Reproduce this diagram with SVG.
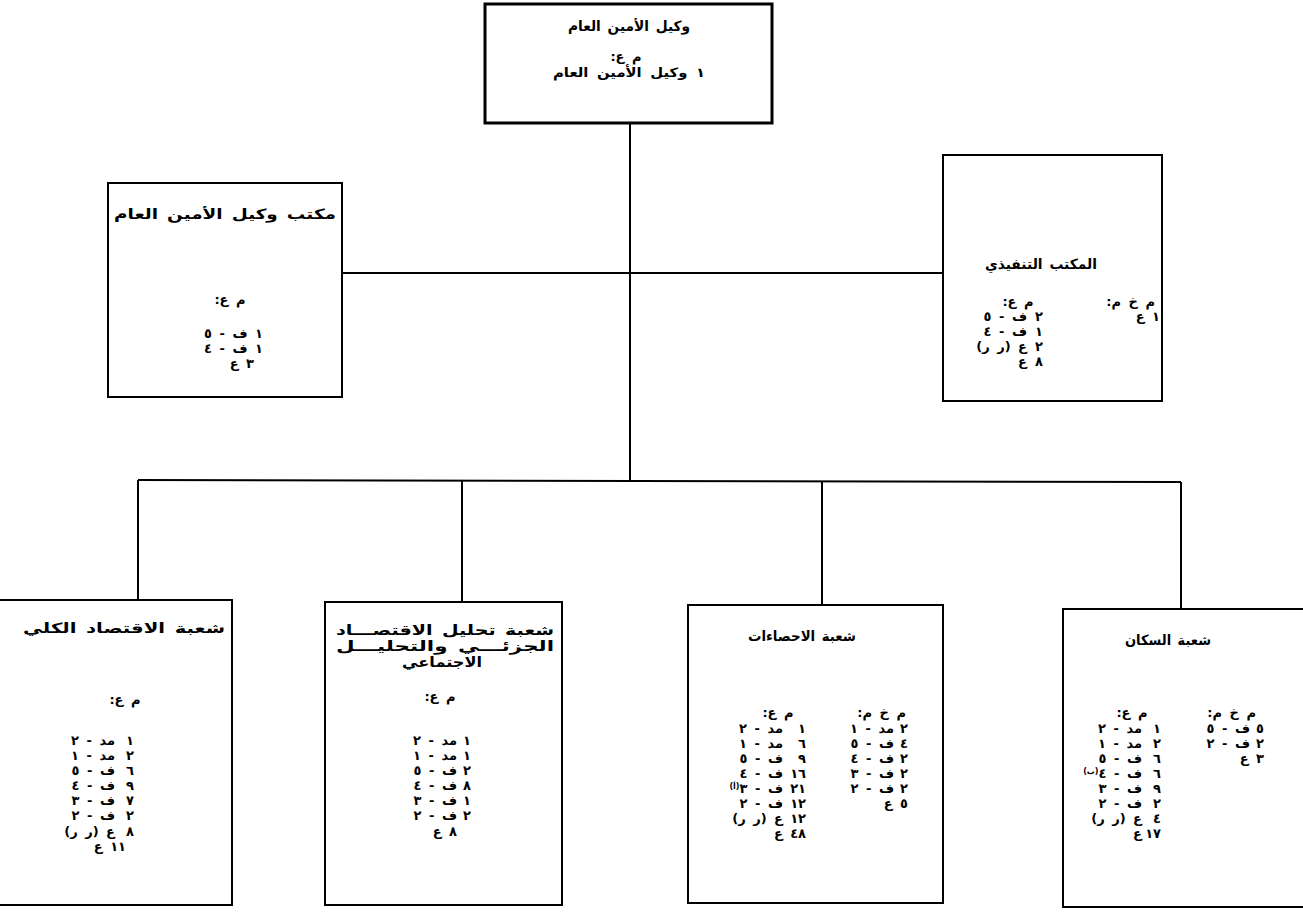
<svg xmlns="http://www.w3.org/2000/svg" width="1303" height="915" viewBox="0 0 1303 915">
<style>
.bg{fill:#fff}
.box{fill:none;stroke:#000;stroke-width:2}
.box.main{stroke-width:3}
.ln{fill:none;stroke:#000;stroke-width:2}
text{font-family:"DejaVu Sans",sans-serif;font-weight:bold;font-size:13px;fill:#000;direction:rtl;word-spacing:3px}
.c{text-anchor:middle}
.r{text-anchor:start}
.ttl{font-size:14px;word-spacing:2px}
.sup{font-size:8px}
</style>
<rect class="bg" x="0" y="0" width="1303" height="915"/>
<g id="connectors">
<line class="ln" x1="630" y1="123" x2="630" y2="482"/>
<line class="ln" x1="342" y1="273" x2="943" y2="273"/>
<line class="ln" x1="138" y1="480" x2="1181" y2="482"/>
<line class="ln" x1="138" y1="480" x2="138" y2="600"/>
<line class="ln" x1="462" y1="481" x2="462" y2="602"/>
<line class="ln" x1="822" y1="481" x2="822" y2="605"/>
<line class="ln" x1="1181" y1="482" x2="1181" y2="609"/>
</g>
<g id="n-top">
<rect class="box main" x="485" y="4" width="287" height="119"/>
<text class="c ttl" x="629" y="31" textLength="122" lengthAdjust="spacingAndGlyphs">وكيل الأمين العام</text>
<text class="c" x="626" y="61">م ع:</text>
<text class="c" x="629" y="77" textLength="152" lengthAdjust="spacingAndGlyphs">١ وكيل الأمين العام</text>
</g>
<g id="n-office">
<rect class="box" x="108" y="183" width="234" height="214"/>
<text class="c ttl" x="225" y="219" textLength="222" lengthAdjust="spacingAndGlyphs">مكتب وكيل الأمين العام</text>
<text class="c" x="230" y="304">م ع:</text>
<text class="r" x="263" y="338">١ ف - ٥</text>
<text class="r" x="263" y="353">١ ف - ٤</text>
<text class="r" x="254" y="368">٣ ع</text>
</g>
<g id="n-exec">
<rect class="box" x="943" y="155" width="219" height="246"/>
<text class="c ttl" x="1041" y="269" textLength="112" lengthAdjust="spacingAndGlyphs">المكتب التنفيذي</text>
<text class="c" x="1018" y="306">م ع:</text>
<text class="r" x="1043" y="321">٢</text><text class="r" x="1027" y="321">ف - ٥</text>
<text class="r" x="1043" y="336">١</text><text class="r" x="1027" y="336">ف - ٤</text>
<text class="r" x="1043" y="351">٢</text><text class="r" x="1027" y="351">ع (ر ر)</text>
<text class="r" x="1043" y="366">٨</text><text class="r" x="1027" y="366">ع</text>
<text class="r" x="1155" y="306">م خ م:</text>
<text class="r" x="1160" y="321">١ ع</text>
</g>
<g id="n-macro">
<rect class="box" x="-2" y="600" width="234" height="305"/>
<text class="c ttl" x="124" y="633" textLength="202" lengthAdjust="spacingAndGlyphs">شعبة الاقتصاد الكلي</text>
<text class="c" x="125" y="704">م ع:</text>
<text class="r" x="134" y="745">١</text><text class="r" x="115" y="745">مد - ٢</text>
<text class="r" x="134" y="760">٢</text><text class="r" x="115" y="760">مد - ١</text>
<text class="r" x="134" y="775">٦</text><text class="r" x="115" y="775">ف - ٥</text>
<text class="r" x="134" y="790">٩</text><text class="r" x="115" y="790">ف - ٤</text>
<text class="r" x="134" y="805">٧</text><text class="r" x="115" y="805">ف - ٣</text>
<text class="r" x="134" y="820">٢</text><text class="r" x="115" y="820">ف - ٢</text>
<text class="r" x="134" y="836">٨</text><text class="r" x="115" y="836">ع (ر ر)</text>
<text class="r" x="126" y="851">١١ ع</text>
</g>
<g id="n-micro">
<rect class="box" x="325" y="602" width="237" height="303"/>
<text class="c ttl" x="445" y="635" textLength="218" lengthAdjust="spacingAndGlyphs">شعبة تحليل الاقتصـــاد</text>
<text class="c ttl" x="445" y="651" textLength="218" lengthAdjust="spacingAndGlyphs">الجزئـــي والتحليـــل</text>
<text class="c ttl" x="442" y="667" textLength="80" lengthAdjust="spacingAndGlyphs">الاجتماعي</text>
<text class="c" x="440" y="701">م ع:</text>
<text class="r" x="471" y="745">١</text><text class="r" x="457" y="745">مد - ٢</text>
<text class="r" x="471" y="760">١</text><text class="r" x="457" y="760">مد - ١</text>
<text class="r" x="471" y="775">٢</text><text class="r" x="457" y="775">ف - ٥</text>
<text class="r" x="471" y="790">٨</text><text class="r" x="457" y="790">ف - ٤</text>
<text class="r" x="471" y="805">١</text><text class="r" x="457" y="805">ف - ٣</text>
<text class="r" x="471" y="820">٢</text><text class="r" x="457" y="820">ف - ٢</text>
<text class="r" x="457" y="836">٨ ع</text>
</g>
<g id="n-stat">
<rect class="box" x="688" y="605" width="255" height="298"/>
<text class="c ttl" x="802" y="641" textLength="108" lengthAdjust="spacingAndGlyphs">شعبة الاحصاءات</text>
<text class="c" x="778" y="717">م ع:</text>
<text class="r" x="806" y="733">١</text><text class="r" x="783" y="733">مد - ٢</text>
<text class="r" x="806" y="748">٦</text><text class="r" x="783" y="748">مد - ١</text>
<text class="r" x="806" y="763">٩</text><text class="r" x="783" y="763">ف - ٥</text>
<text class="r" x="806" y="778">١٦</text><text class="r" x="783" y="778">ف - ٤</text>
<text class="r" x="806" y="793">٢١</text><text class="r" x="783" y="793">ف - ٣<tspan class="sup" dy="-4">(أ)</tspan></text>
<text class="r" x="806" y="808">١٢</text><text class="r" x="783" y="808">ف - ٢</text>
<text class="r" x="806" y="823">١٢</text><text class="r" x="783" y="823">ع (ر ر)</text>
<text class="r" x="806" y="838">٤٨</text><text class="r" x="783" y="838">ع</text>
<text class="r" x="906" y="717">م خ م:</text>
<text class="r" x="908" y="733">٢</text><text class="r" x="894" y="733">مد - ١</text>
<text class="r" x="908" y="748">٤</text><text class="r" x="894" y="748">ف - ٥</text>
<text class="r" x="908" y="763">٢</text><text class="r" x="894" y="763">ف - ٤</text>
<text class="r" x="908" y="778">٢</text><text class="r" x="894" y="778">ف - ٣</text>
<text class="r" x="908" y="793">٢</text><text class="r" x="894" y="793">ف - ٢</text>
<text class="r" x="908" y="808">٥ ع</text>
</g>
<g id="n-pop">
<rect class="box" x="1063" y="609" width="245" height="298"/>
<text class="c ttl" x="1168" y="645" textLength="86" lengthAdjust="spacingAndGlyphs">شعبة السكان</text>
<text class="c" x="1132" y="717">م ع:</text>
<text class="r" x="1161" y="733">١</text><text class="r" x="1142" y="733">مد - ٢</text>
<text class="r" x="1161" y="748">٢</text><text class="r" x="1142" y="748">مد - ١</text>
<text class="r" x="1161" y="763">٦</text><text class="r" x="1142" y="763">ف - ٥</text>
<text class="r" x="1161" y="778">٦</text><text class="r" x="1142" y="778">ف - ٤<tspan class="sup" dy="-4">(ب)</tspan></text>
<text class="r" x="1161" y="793">٩</text><text class="r" x="1142" y="793">ف - ٣</text>
<text class="r" x="1161" y="808">٢</text><text class="r" x="1142" y="808">ف - ٢</text>
<text class="r" x="1161" y="823">٤</text><text class="r" x="1142" y="823">ع (ر ر)</text>
<text class="r" x="1161" y="838">١٧</text><text class="r" x="1142" y="838">ع</text>
<text class="r" x="1256" y="717">م خ م:</text>
<text class="r" x="1264" y="733">٥</text><text class="r" x="1250" y="733">ف - ٥</text>
<text class="r" x="1264" y="748">٢</text><text class="r" x="1250" y="748">ف - ٢</text>
<text class="r" x="1264" y="763">٣ ع</text>
</g>
</svg>
